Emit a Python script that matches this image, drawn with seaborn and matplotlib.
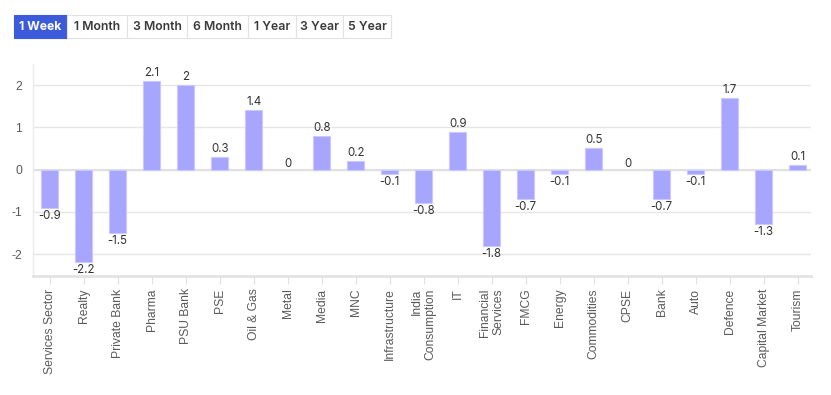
import matplotlib
matplotlib.use("Agg")
import matplotlib.pyplot as plt
import seaborn as sns
import pandas as pd
from matplotlib.patches import Rectangle

categories = ["Services Sector", "Realty", "Private Bank", "Pharma", "PSU Bank", "PSE",
              "Oil & Gas", "Metal", "Media", "MNC", "Infrastructure", "India\nConsumption",
              "IT", "Financial\nServices", "FMCG", "Energy", "Commodities", "CPSE", "Bank",
              "Auto", "Defence", "Capital Market", "Tourism"]
values = [-0.9, -2.2, -1.5, 2.1, 2.0, 0.3, 1.4, 0.0, 0.8, 0.2, -0.1, -0.8,
          0.9, -1.8, -0.7, -0.1, 0.5, 0.0, -0.7, -0.1, 1.7, -1.3, 0.1]
value_labels = ["-0.9", "-2.2", "-1.5", "2.1", "2", "0.3", "1.4", "0", "0.8", "0.2", "-0.1", "-0.8",
                "0.9", "-1.8", "-0.7", "-0.1", "0.5", "0", "-0.7", "-0.1", "1.7", "-1.3", "0.1"]
buttons = ["1 Week", "1 Month", "3 Month", "6 Month", "1 Year", "3 Year", "5 Year"]
yticks = [-2, -1, 0, 1, 2]

sns.set_theme(style="white")
plt.rcParams['font.family'] = ['Liberation Sans', 'DejaVu Sans']

W, H = 831, 395
fig = plt.figure(figsize=(W / 100, H / 100), dpi=100)
ax = fig.add_axes([33 / W, 1 - 276 / H, (811 - 33) / W, (276 - 64) / H])

df = pd.DataFrame({"sector": categories, "value": values})
sns.barplot(data=df, x="sector", y="value", ax=ax, color="#a6a6ff", saturation=1,
            width=0.51, edgecolor="#c9c9ff", linewidth=0.8, zorder=3)
for p in ax.patches:
    if abs(p.get_height()) < 1e-9:
        p.set_linewidth(0)

ax.set_xlim(-0.49, 22.39)
ax.set_ylim(-2.52, 2.5)
ax.set_yticks(yticks)
ax.set_yticklabels([str(t) for t in yticks])
ax.set_xlabel("")
ax.set_ylabel("")
ax.grid(axis="y", color="#e6e6e6", linewidth=1, zorder=0)
ax.axhline(0, color="#e0e0e0", linewidth=1.5, zorder=1)
for s in ["top", "right"]:
    ax.spines[s].set_visible(False)
ax.spines["left"].set_color("#ebebeb")
ax.spines["left"].set_linewidth(1)
ax.spines["bottom"].set_color("#e3e3e3")
ax.spines["bottom"].set_linewidth(2)

ax.tick_params(axis="x", length=6, width=0.8, color="#e0e0e0", labelsize=8.7,
               labelcolor="#5a5a5a", bottom=True, pad=3)
ax.tick_params(axis="y", length=0, labelsize=8.7, labelcolor="#5a5a5a", pad=8)
for lbl in ax.get_xticklabels():
    lbl.set_rotation(90)
    lbl.set_va("top")
    lbl.set_ha("center")
    lbl.set_multialignment("right")

for i, (v, t) in enumerate(zip(values, value_labels)):
    if v > 0:
        off = 8
    elif v < 0:
        off = -8
    else:
        off = 6
    ax.annotate(t, (i, v), xytext=(0, off), textcoords="offset pixels",
                ha="center", va="center", fontsize=8.3, color="#333333", zorder=5,
                family=["Inter", "DejaVu Sans"])

# period buttons
edges = [14, 66.7, 126.7, 187.3, 248.3, 295.7, 343.3, 391]
y0, y1 = 14.7, 38.3
for i, b in enumerate(buttons):
    x0, x1 = edges[i], edges[i + 1]
    active = i == 0
    fig.patches.append(Rectangle((x0 / W, 1 - y1 / H), (x1 - x0) / W, (y1 - y0) / H,
                                 transform=fig.transFigure,
                                 facecolor="#3b5bdb" if active else "white",
                                 edgecolor="#3b5bdb" if active else "#e2e2e2",
                                 linewidth=0.8, zorder=1))
    fig.text((x0 + x1) / 2 / W, 1 - (y0 + y1) / 2 / H, b, ha="center", va="center",
             fontsize=8.8, fontweight="bold" if active else "semibold",
             color="white" if active else "#3a3a3a", family=["Inter", "DejaVu Sans"], zorder=2)

fig.savefig("out.png", dpi=100, facecolor="white")
